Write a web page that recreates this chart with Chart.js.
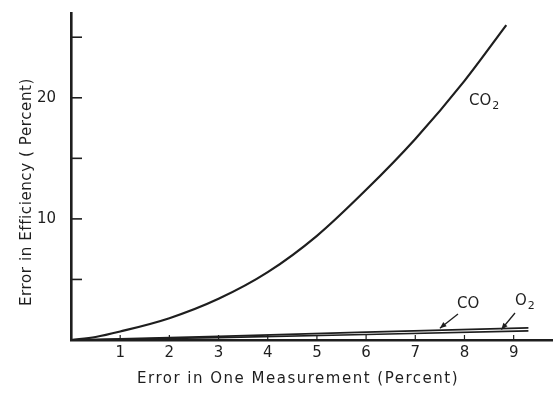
<!DOCTYPE html>
<html>
<head>
<meta charset="utf-8">
<script src="https://cdn.jsdelivr.net/npm/chart.js@4/dist/chart.umd.min.js"></script>
<style>
html,body{margin:0;padding:0;background:#fff;}
#wrap{width:553px;height:394px;position:relative;}
</style>
</head>
<body>
<div id="wrap"><canvas id="c" width="553" height="394"></canvas></div>
<script>
// ---- data ----
const co2X = [0, 0.5, 1, 2, 3, 4, 5, 6, 7, 8, 8.85];
const co2Y = [0, 0.25, 0.7, 1.8, 3.4, 5.6, 8.6, 12.4, 16.6, 21.4, 26.0];
const coX = [0, 3, 6, 9.3];
const coY = [0, 0.3, 0.65, 1.0];
const o2X = [0, 3, 6, 9.3];
const o2Y = [0, 0.2, 0.45, 0.75];
const xTickLabels = [1, 2, 3, 4, 5, 6, 7, 8, 9];
const yTickLabels = [10, 20];
const yTickMarks = [5, 10, 15, 20, 25];
const xTitle = 'Error in One Measurement (Percent)';
const yTitle = 'Error in Efficiency ( Percent)';

const INK = '#1e1e1e';
const FONT = '"DejaVu Sans", sans-serif';

function pts(xs, ys) { return xs.map((x, i) => ({x: x, y: ys[i]})); }

const deco = {
  id: 'deco',
  afterDraw(chart) {
    const ctx = chart.ctx;
    const xs = chart.scales.x, ys = chart.scales.y;
    const x0 = xs.getPixelForValue(0), y0 = ys.getPixelForValue(0);
    ctx.save();
    ctx.strokeStyle = INK;
    ctx.fillStyle = INK;
    // inside tick marks on y axis
    ctx.lineWidth = 1.6;
    yTickMarks.forEach(v => {
      const py = ys.getPixelForValue(v);
      ctx.beginPath(); ctx.moveTo(x0, py); ctx.lineTo(x0 + 11, py); ctx.stroke();
    });
    // small inside tick marks on x axis
    ctx.lineWidth = 1.2;
    xTickLabels.forEach(v => {
      const px = xs.getPixelForValue(v);
      ctx.beginPath(); ctx.moveTo(px, y0); ctx.lineTo(px, y0 - 5); ctx.stroke();
    });
    // axis titles
    ctx.font = '15px ' + FONT;
    ctx.textAlign = 'center'; ctx.textBaseline = 'middle';
    ctx.letterSpacing = '1.5px';
    ctx.fillText(xTitle, 298, 379);
    ctx.letterSpacing = '0.6px';
    ctx.save();
    ctx.translate(27, 192);
    ctx.rotate(-Math.PI / 2);
    ctx.fillText(yTitle, 0, 0);
    ctx.restore();
    ctx.letterSpacing = '0px';
    // series labels
    function lab(main, sub, x, y) {
      ctx.font = '15px ' + FONT;
      ctx.textAlign = 'left'; ctx.textBaseline = 'middle';
      ctx.fillText(main, x, y);
      const w = ctx.measureText(main).width;
      if (sub) { ctx.font = '11px ' + FONT; ctx.fillText(sub, x + w + 1, y + 5); }
    }
    lab('CO', '2', 469, 101);
    lab('CO', '', 457, 304);
    lab('O', '2', 515, 301);
    // arrows pointing to the CO and O2 lines
    function arrow(fx, fy, vx, ds) {
      const tx = xs.getPixelForValue(vx);
      const data = chart.data.datasets[ds].data;
      let vy = 0;
      for (let i = 1; i < data.length; i++) {
        if (vx <= data[i].x) { const a = data[i-1], b = data[i]; vy = a.y + (b.y - a.y) * (vx - a.x) / (b.x - a.x); break; }
      }
      const ty = ys.getPixelForValue(vy) - 2;
      ctx.lineWidth = 1.3;
      ctx.beginPath(); ctx.moveTo(fx, fy); ctx.lineTo(tx, ty); ctx.stroke();
      const ang = Math.atan2(ty - fy, tx - fx);
      ctx.beginPath();
      ctx.moveTo(tx, ty);
      ctx.lineTo(tx - 7 * Math.cos(ang - 0.4), ty - 7 * Math.sin(ang - 0.4));
      ctx.lineTo(tx - 7 * Math.cos(ang + 0.4), ty - 7 * Math.sin(ang + 0.4));
      ctx.closePath(); ctx.fill();
    }
    arrow(458, 314, 7.5, 1);
    arrow(515, 313, 8.75, 2);
    ctx.restore();
  }
};

new Chart(document.getElementById('c'), {
  type: 'line',
  data: {
    datasets: [
      {label: 'CO2', data: pts(co2X, co2Y), borderColor: INK, borderWidth: 2.2, pointRadius: 0, cubicInterpolationMode: 'monotone', fill: false},
      {label: 'CO', data: pts(coX, coY), borderColor: INK, borderWidth: 1.6, pointRadius: 0, fill: false},
      {label: 'O2', data: pts(o2X, o2Y), borderColor: INK, borderWidth: 1.6, pointRadius: 0, fill: false}
    ]
  },
  options: {
    responsive: false,
    animation: false,
    events: [],
    layout: {padding: {top: 13, right: 0, left: 0, bottom: 0}},
    plugins: {legend: {display: false}, tooltip: {enabled: false}},
    scales: {
      x: {
        type: 'linear', min: 0, max: 9.8,
        afterFit(s) { s.height = 54; s.paddingLeft = 0; s.paddingRight = 0; },
        grid: {display: true, drawOnChartArea: false, drawTicks: false},
        border: {display: true, color: INK, width: 2.6},
        ticks: {
          stepSize: 1, padding: 4, color: INK, maxRotation: 0, autoSkip: false,
          font: {family: FONT, size: 15},
          callback: v => xTickLabels.includes(v) ? String(v) : ''
        }
      },
      y: {
        type: 'linear', min: 0, max: 27,
        afterFit(s) { s.width = 71; s.paddingTop = 0; s.paddingBottom = 0; },
        grid: {display: true, drawOnChartArea: false, drawTicks: false},
        border: {display: true, color: INK, width: 2.6},
        ticks: {
          stepSize: 5, padding: 15, color: INK, autoSkip: false,
          font: {family: FONT, size: 15},
          callback: v => yTickLabels.includes(v) ? String(v) : ''
        }
      }
    }
  },
  plugins: [deco]
});
</script>
</body>
</html>
